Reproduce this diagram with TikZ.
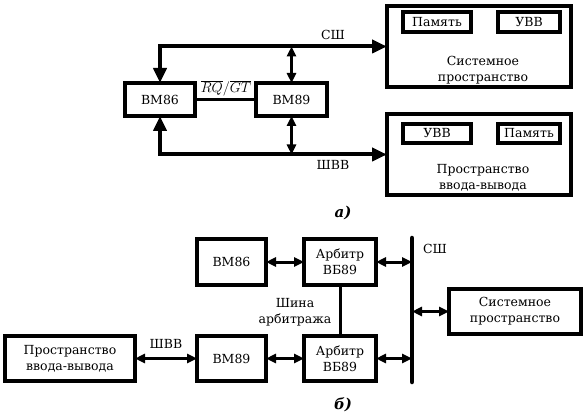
\documentclass[tikz,border=0pt]{standalone}
\usepackage{fontspec}
\setmainfont{DejaVu Serif}
\usetikzlibrary{arrows.meta}
\begin{document}
\begin{tikzpicture}[x=1pt,y=-1pt,
  every node/.style={font=\fontsize{12.5}{16}\selectfont, inner sep=0pt, outer sep=0pt},
  blk/.style={draw, line width=4pt, align=center},
  sub/.style={draw, line width=3.5pt, align=center},
  txt/.style={align=center},
  busb/.style={line width=4pt, {Triangle[length=15pt,width=13pt]}-{Triangle[length=15pt,width=13pt]}},
  dbl/.style={line width=3pt, {Triangle[length=10pt,width=9pt]}-{Triangle[length=10pt,width=9pt]}},
  thin/.style={line width=3pt},
  figcap/.style={font=\fontsize{15}{18}\selectfont\bfseries\itshape}]
\useasboundingbox (0,0) rectangle (585,419);
% ---------- a) ----------
\node[blk, minimum width=70pt, minimum height=33pt] (vm86a) at (160,99.5) {ВМ86};
\node[blk, minimum width=71pt, minimum height=33pt] (vm89a) at (291.5,99.5) {ВМ89};
\node[blk, minimum width=184pt, minimum height=81pt] (sysA) at (479,46.5) {};
\node[sub, minimum width=68pt, minimum height=20pt] (memA) at (437,22) {Память};
\node[sub, minimum width=62pt, minimum height=20pt] (uvvA) at (529,22) {УВВ};
\node[txt] (sysAt) at (483,70) {Системное\\пространство};
\node[blk, minimum width=184pt, minimum height=81pt] (ioA) at (479,154.5) {};
\node[sub, minimum width=68pt, minimum height=19pt] (uvvA2) at (437,133.5) {УВВ};
\node[sub, minimum width=62pt, minimum height=19pt] (memA2) at (529,133.5) {Память};
\node[txt] (ioAt) at (483,178) {Пространство\\ввода-вывода};
\draw[busb] (vm86a.north) |- (sysA.west);
\draw[busb] (vm86a.south) |- (ioA.west);
\draw[dbl] (vm89a.north) -- (vm89a.north |- sysA.west);
\draw[dbl] (vm89a.south) -- (vm89a.south |- ioA.west);
\draw[thin] (vm86a.east) -- (vm89a.west);
\node (rqgt) at (226,88) {\fontsize{14}{16}\selectfont$\overline{RQ}/\overline{GT}$};
\node (sha) at (333,35) {СШ};
\node (shvva) at (333,165) {ШВВ};
\node[figcap] (capa) at (343,213) {а)};
% ---------- b) ----------
\node[blk, minimum width=69pt, minimum height=46pt] (vm86b) at (231.5,262) {ВМ86};
\node[blk, minimum width=69pt, minimum height=45pt] (vm89b) at (231.5,358.5) {ВМ89};
\node[blk, minimum width=130pt, minimum height=45pt] (ioB) at (70,358.5) {Пространство\\ввода-вывода};
\node[blk, minimum width=72pt, minimum height=46pt] (arb1) at (340,262) {Арбитр\\ВБ89};
\node[blk, minimum width=72pt, minimum height=45pt] (arb2) at (340,358.5) {Арбитр\\ВБ89};
\node[blk, minimum width=132pt, minimum height=45pt] (sysB) at (515,311.5) {Системное\\пространство};
\coordinate (busT) at (412,238);
\coordinate (busB) at (412,382);
\draw[line width=4.5pt, line cap=round] (busT) -- (busB);
\draw[dbl] (vm86b.east) -- (arb1.west);
\draw[dbl] (vm89b.east) -- (arb2.west);
\draw[dbl] (ioB.east) -- (vm89b.west);
\draw[dbl] (arb1.east) -- (arb1.east -| busT);
\draw[dbl] (arb2.east) -- (arb2.east -| busT);
\draw[dbl] (sysB.west -| busT) -- (sysB.west);
\draw[thin] (arb1.south) -- (arb2.north);
\node (shvvb) at (166,344) {ШВВ};
\node (shb) at (435,249) {СШ};
\node[txt] (arbbus) at (295,312) {Шина\\арбитража};
\node[figcap] (capb) at (343,405) {б)};
\end{tikzpicture}
\end{document}
